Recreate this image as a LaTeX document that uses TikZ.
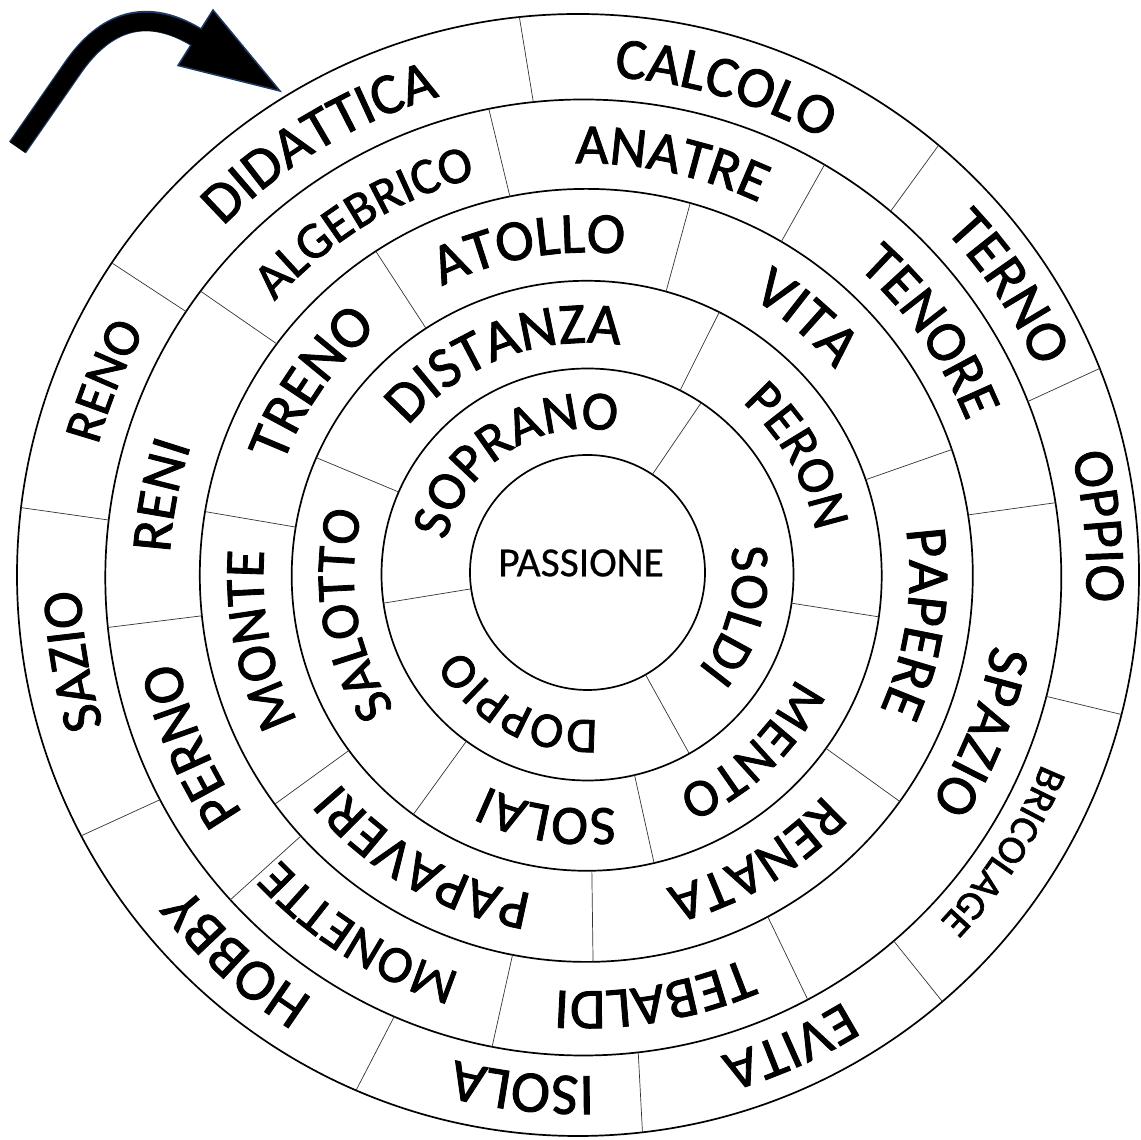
\documentclass[tikz,border=0pt]{standalone}
\usepackage{fontspec}
\setmainfont{Carlito}
\newfontfamily\wf{Carlito}[FakeBold=1.5]
\newfontfamily\cf{Carlito}[FakeBold=0.5]
\usetikzlibrary{decorations.text}
\definecolor{navy}{RGB}{31,56,100}
\newcommand\ringword[5]{%
  \path[decorate, decoration={text along path, text align=center,
      text={|\wf\fontsize{#4}{#4}\selectfont|#5}}]
    ([shift={({#2+85}:#3)}]#1) arc[start angle={#2+85}, end angle={#2-85}, radius=#3];}
\begin{document}
\begin{tikzpicture}[x=1pt,y=1pt,
  ring/.style={line width=1.7pt, draw=black},
  divider/.style={line width=0.7pt, draw=black!80}]
\useasboundingbox (0,0) rectangle (1141,1140);
% centres of the circles
\coordinate (c1) at (587.5,567.5);
\coordinate (c2) at (587.5,565.5);
\coordinate (c3) at (586.7,564.2);
\coordinate (c4) at (586.3,564.6);
\coordinate (c5) at (583.3,562.5);
\coordinate (c6) at (578,565);
\coordinate (t6) at (580.6,563.8);
% circles
\draw[ring] (c1) circle[radius=117.5];
\draw[ring] (c2) circle[radius=206];
\draw[ring] (c3) circle[radius=295];
\draw[ring] (c4) circle[radius=386.5];
\draw[ring] (c5) circle[radius=478];
\draw[ring] (c6) circle[radius=561];
% dividers
\foreach \a in {56.5,-60.4,188}
  \draw[divider] ([shift={(\a:117.5)}]c1) -- ([shift={(\a:206)}]c2);
\foreach \a in {63.3,-8,-76.8,-126,156.4}
  \draw[divider] ([shift={(\a:206)}]c2) -- ([shift={(\a:295)}]c3);
\foreach \a in {123,74.4,19,-35.8,-89,-143.7,170.5}
  \draw[divider] ([shift={(\a:295)}]c3) -- ([shift={(\a:386.5)}]c4);
\foreach \a in {101.4,59.7,9,-62,-101,-137.6,186,143.2}
  \draw[divider] ([shift={(\a:386.5)}]c4) -- ([shift={(\a:478)}]c5);
\foreach \a in {96,50,21.6,-14.4,-49.5,-83.4,-113.3,-152.3,173.1,146.2}
  \draw[divider] ([shift={(\a:478)}]c5) -- ([shift={(\a:561)}]c6);
% centre
\node[font=\cf\fontsize{41.5}{41.5}\selectfont, inner sep=0pt] (passione) at (581,577) {PASSIONE};
% ring 2
\ringword{c2}{122.5}{145.5}{55}{SOPRANO}
\ringword{c2}{-15}{145.5}{54}{SOLDI}
\ringword{c2}{-117.7}{145.5}{50}{DOPPIO}
% ring 3
\ringword{c3}{110.9}{233}{58}{DISTANZA}
\ringword{c3}{29.5}{233}{53}{PERON}
\ringword{c3}{-46.5}{233}{53.5}{MENTO}
\ringword{c3}{-99.3}{233}{55.5}{SOLAI}
\ringword{c3}{189.4}{233}{54.5}{SALOTTO}
% ring 4
\ringword{c4}{99.9}{323}{58}{ATOLLO}
\ringword{c4}{49.5}{323}{59}{VITA}
\ringword{c4}{-8.2}{323}{59}{PAPERE}
\ringword{c4}{-59.2}{323}{56}{RENATA}
\ringword{c4}{-119.9}{323}{56.5}{PAPAVERI}
\ringword{c4}{191.2}{323}{56}{MONTE}
\ringword{c4}{145}{323}{59}{TRENO}
% ring 5
\ringword{c5}{121.6}{414}{51.5}{ALGEBRICO}
\ringword{c5}{78}{414}{57}{ANATRE}
\ringword{c5}{35.3}{414}{57.5}{TENORE}
\ringword{c5}{-21.2}{414}{58}{SPAZIO}
\ringword{c5}{-80.4}{414}{57.5}{TEBALDI}
\ringword{c5}{-122.2}{414}{52.5}{MONETTE}
\ringword{c5}{203.2}{414}{58}{PERNO}
\ringword{c5}{169}{414}{57}{RENI}
% ring 6
\ringword{t6}{121}{500}{58}{DIDATTICA}
\ringword{t6}{73.5}{500}{58}{CALCOLO}
\ringword{t6}{34}{502}{59}{TERNO}
\ringword{t6}{5.5}{506}{57}{OPPIO}
\ringword{t6}{-33}{498}{40.5}{BRICOLAGE}
\ringword{t6}{-66}{500}{57}{EVITA}
\ringword{t6}{-96.5}{500}{59}{ISOLA}
\ringword{t6}{-132}{500}{59}{HOBBY}
\ringword{t6}{189.5}{500}{57}{SAZIO}
\ringword{t6}{157.7}{500}{53}{RENO}
% arrow
\coordinate (ashaft0) at (17.5,992.5);
\coordinate (ashaft1) at (72,1071);
\coordinate (abase) at (196,1103);
\coordinate (atip) at (280,1049);
\coordinate (ahead1) at (213,1130);
\coordinate (ahead2) at (178,1074.5);
\draw[line width=20.5, draw=navy] (ashaft0) -- (ashaft1) .. controls (100,1112) and (140,1137) .. (abase);
\filldraw[fill=black, draw=navy, line width=1.5, line join=miter] (ahead1) -- (atip) -- (ahead2) -- cycle;
\draw[line width=18, draw=black] (ashaft0) -- (ashaft1) .. controls (100,1112) and (140,1137) .. ([shift={(4,-2.5)}]abase);
\end{tikzpicture}
\end{document}
